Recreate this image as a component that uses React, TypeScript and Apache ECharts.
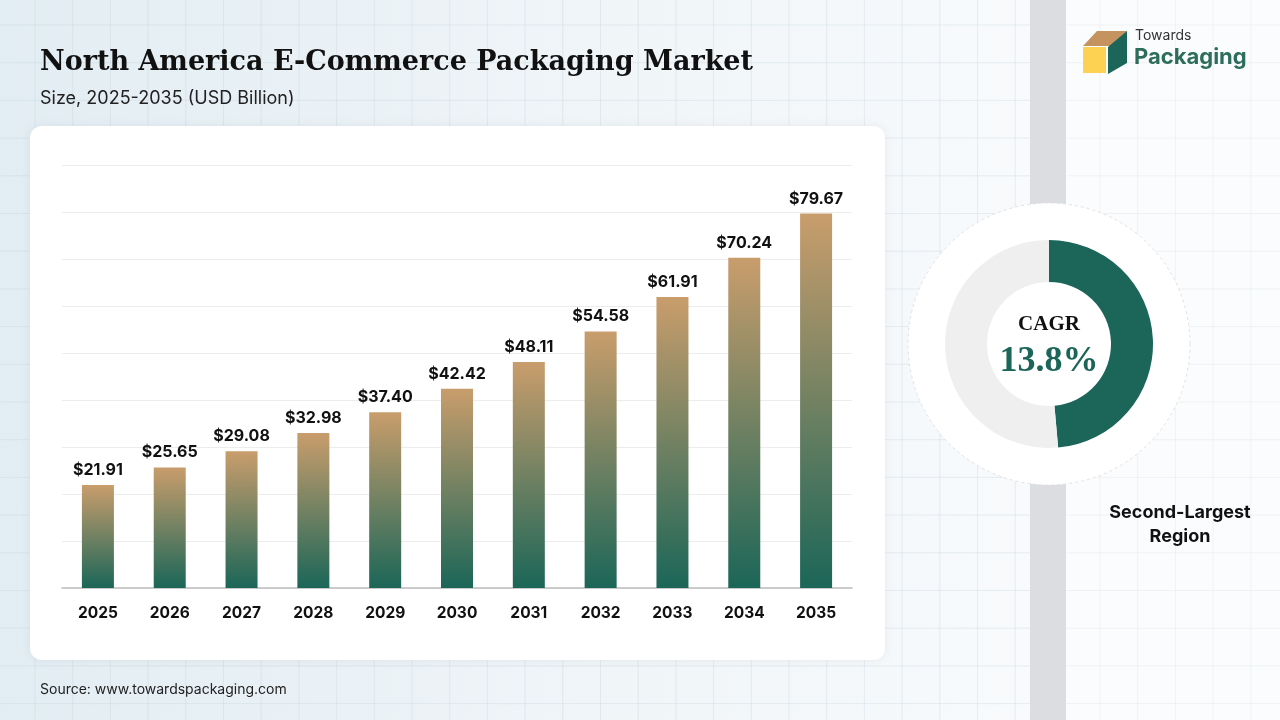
import React, { useEffect, useRef } from "react";
import * as echarts from "echarts";

const years = ["2025", "2026", "2027", "2028", "2029", "2030", "2031", "2032", "2033", "2034", "2035"];
const marketSize = [21.91, 25.65, 29.08, 32.98, 37.4, 42.42, 48.11, 54.58, 61.91, 70.24, 79.67];
const cagrShare = [48.6, 51.4];
const titleText = "North America E-Commerce Packaging Market";
const subtitleText = "Size, 2025-2035 (USD Billion)";
const sourceText = "Source: www.towardspackaging.com";
const cagrLabel = "CAGR";
const cagrValue = "13.8%";
const regionLabel = "Second-Largest\nRegion";

const GREEN = "#1b6658";
const TAN = "#c99d6c";

export default function App() {
  const ref = useRef<HTMLDivElement>(null);
  useEffect(() => {
    if (!ref.current) return;
    const chart = echarts.init(ref.current, undefined, { renderer: "svg" });

    const bgLines: any[] = [];
    for (let x = 35; x < 1030; x += 37.7) {
      bgLines.push({ type: "line", shape: { x1: x, y1: 0, x2: x, y2: 720 }, style: { stroke: "rgba(190,205,215,0.3)", lineWidth: 1 }, silent: true });
    }
    for (let y = 25; y < 720; y += 37.7) {
      bgLines.push({ type: "line", shape: { x1: 0, y1: y, x2: 1030, y2: y }, style: { stroke: "rgba(190,205,215,0.3)", lineWidth: 1 }, silent: true });
    }
    for (let x = 1100; x < 1280; x += 37.7) {
      bgLines.push({ type: "line", shape: { x1: x, y1: 0, x2: x, y2: 720 }, style: { stroke: "rgba(225,230,236,0.45)", lineWidth: 1 }, silent: true });
    }
    for (let y = 25; y < 720; y += 37.7) {
      bgLines.push({ type: "line", shape: { x1: 1066, y1: y, x2: 1280, y2: y }, style: { stroke: "rgba(225,230,236,0.45)", lineWidth: 1 }, silent: true });
    }

    chart.setOption({
      animation: false,
      graphic: [
        {
          type: "rect", z: -10, silent: true,
          shape: { x: 0, y: 0, width: 1030, height: 720 },
          style: {
            fill: new echarts.graphic.LinearGradient(0, 0, 1, 0, [
              { offset: 0, color: "#e2edf3" },
              { offset: 0.6, color: "#f0f5f8" },
              { offset: 1, color: "#f8fafc" },
            ]),
          },
        },
        { type: "rect", z: -10, silent: true, shape: { x: 1066, y: 0, width: 214, height: 720 }, style: { fill: "#fbfcfd" } },
        ...bgLines.map((l) => ({ ...l, z: -9 })),
        { type: "rect", z: -8, silent: true, shape: { x: 1030, y: 0, width: 36, height: 720 }, style: { fill: "#dcdde1" } },
        {
          type: "rect", z: -5, silent: true,
          shape: { x: 30, y: 126, width: 855, height: 534, r: 12 },
          style: { fill: "#ffffff", shadowBlur: 10, shadowColor: "rgba(0,0,0,0.06)" },
        },
        {
          type: "circle", z: -4, silent: true,
          shape: { cx: 1049, cy: 344, r: 141 },
          style: { fill: "#ffffff", stroke: "#e2e2e2", lineWidth: 1, lineDash: [3, 3] },
        },
        {
          type: "text", left: 40, top: 47,
          style: { text: titleText, font: "bold 27px 'DejaVu Serif', 'Liberation Serif', serif", fill: "#111111" },
        },
        {
          type: "text", left: 40, top: 88,
          style: { text: subtitleText, font: "18px Inter, 'Noto Sans', sans-serif", fill: "#222222" },
        },
        {
          type: "text", left: 40, top: 681,
          style: { text: sourceText, font: "14px Inter, 'Noto Sans', sans-serif", fill: "#222222" },
        },
        {
          type: "text", x: 1049, y: 323, z: 20,
          style: { text: cagrLabel, font: "bold 21px 'Liberation Serif', 'DejaVu Serif', serif", fill: "#111111", align: "center", verticalAlign: "middle" },
        },
        {
          type: "text", x: 1049, y: 359, z: 20,
          style: { text: cagrValue, font: "bold 36px 'Liberation Serif', 'DejaVu Serif', serif", fill: GREEN, align: "center", verticalAlign: "middle" },
        },
        {
          type: "text", x: 1180, y: 523,
          style: { text: regionLabel, font: "bold 18px Inter, 'Noto Sans', sans-serif", fill: "#111111", align: "center", verticalAlign: "middle", lineHeight: 24 },
        },
        // logo
        { type: "polygon", shape: { points: [[1083, 46], [1097, 31], [1127, 31], [1113, 46]] }, style: { fill: "#c4935f" } },
        { type: "rect", shape: { x: 1083, y: 47, width: 23, height: 26 }, style: { fill: "#fdd253" } },
        { type: "polygon", shape: { points: [[1108, 47], [1127, 31], [1127, 63], [1108, 74]] }, style: { fill: GREEN } },
        {
          type: "text", left: 1135, top: 27,
          style: { text: "Towards", font: "14px Inter, 'Noto Sans', sans-serif", fill: "#333333" },
        },
        {
          type: "text", left: 1134, top: 45,
          style: { text: "Packaging", font: "bold 22px Inter, 'Noto Sans', sans-serif", fill: "#2c6e5a" },
        },
      ],
      grid: { left: 62, right: 428, top: 165, bottom: 132, containLabel: false },
      xAxis: {
        type: "category",
        data: years,
        axisLine: { lineStyle: { color: "#bdbdbd", width: 1.5 } },
        axisTick: { show: false },
        axisLabel: { color: "#111111", fontSize: 15.5, fontWeight: "bold", fontFamily: "Inter, 'Noto Sans', sans-serif", margin: 16 },
      },
      yAxis: {
        type: "value",
        min: 0,
        max: 90,
        interval: 10,
        axisLabel: { show: false },
        axisLine: { show: false },
        axisTick: { show: false },
        splitLine: { lineStyle: { color: "#ececec", width: 1 } },
      },
      series: [
        {
          type: "bar",
          data: marketSize,
          barWidth: 32,
          itemStyle: {
            color: new echarts.graphic.LinearGradient(0, 0, 0, 1, [
              { offset: 0, color: TAN },
              { offset: 1, color: GREEN },
            ]),
          },
          label: {
            show: true,
            position: "top",
            distance: 8,
            formatter: (p: any) => "$" + Number(p.value).toFixed(2),
            color: "#111111",
            fontSize: 16,
            fontWeight: "bold",
            fontFamily: "Inter, 'Noto Sans', sans-serif",
          },
        },
        {
          type: "pie",
          center: [1049, 344],
          radius: [62, 104],
          startAngle: 90,
          clockwise: true,
          silent: true,
          label: { show: false },
          labelLine: { show: false },
          data: [
            { value: cagrShare[0], itemStyle: { color: GREEN } },
            { value: cagrShare[1], itemStyle: { color: "#efefef" } },
          ],
        },
      ],
    });
    return () => chart.dispose();
  }, []);
  return <div ref={ref} style={{ position: "fixed", left: 0, top: 0, width: 1280, height: 720 }} />;
}
